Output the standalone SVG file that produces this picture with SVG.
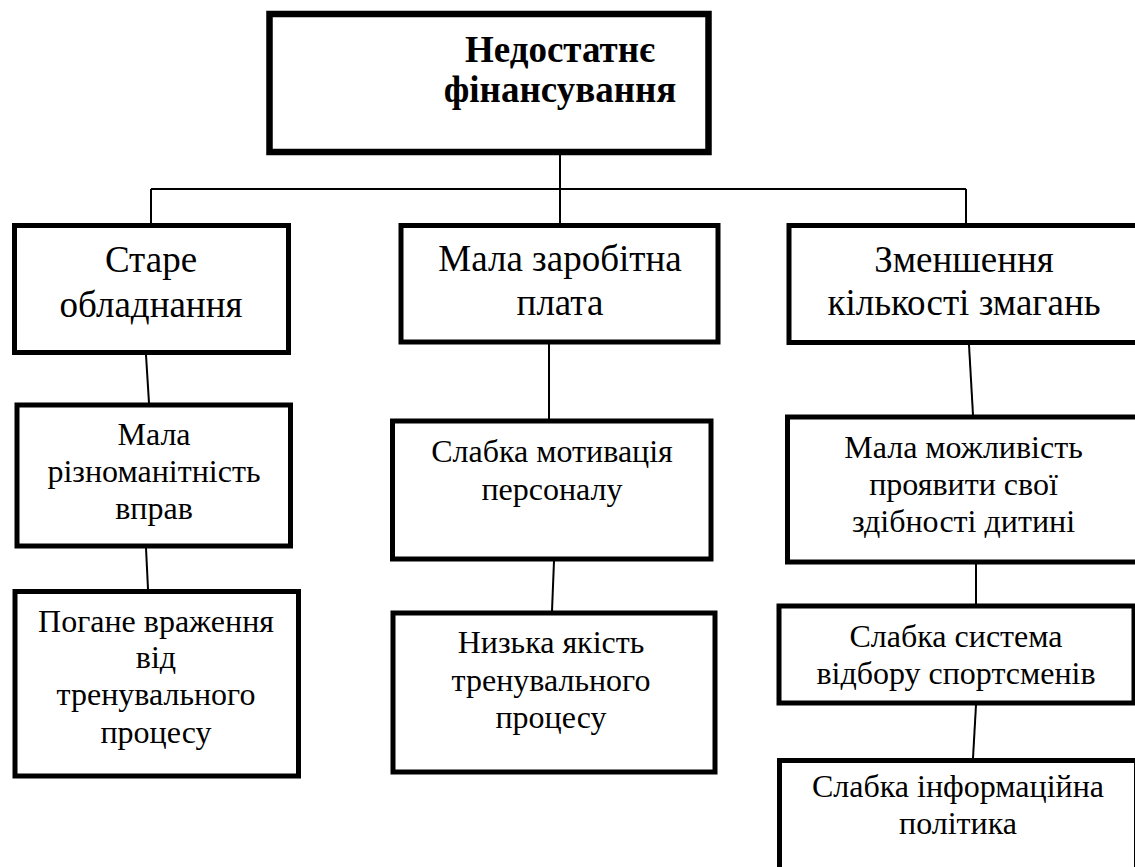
<svg xmlns="http://www.w3.org/2000/svg" width="1135" height="867" viewBox="0 0 1135 867">
<style>
.box{fill:#fff;stroke:#000;stroke-width:5}
.t1{font-family:"Liberation Serif","Times New Roman","DejaVu Serif",serif;font-size:37px;fill:#000;text-anchor:middle}
.t2{font-family:"Liberation Serif","Times New Roman","DejaVu Serif",serif;font-size:32px;fill:#000;text-anchor:middle}
.tb{font-family:"Liberation Serif","Times New Roman","DejaVu Serif",serif;font-size:37px;font-weight:bold;fill:#000;text-anchor:middle}
.c{fill:none;stroke:#000;stroke-width:2}
</style>
<rect width="1135" height="867" fill="#fff"/>
<g id="connectors">
<path class="c" d="M560,155 V189 M151,189 H966 M151,189 V223 M560,189 V223 M966,189 V223"/>
<path class="c" d="M146,355 L149,403"/>
<path class="c" d="M146,548 L148,589"/>
<path class="c" d="M549,344 V419"/>
<path class="c" d="M554,561 L552,611"/>
<path class="c" d="M969,345 L973,415"/>
<path class="c" d="M976,564 V604"/>
<path class="c" d="M976,705 L973,758"/>
</g>
<g id="n0"><rect class="box" style="stroke-width:6.5" x="269.5" y="14" width="439" height="138"/>
<text class="tb" x="560" y="62">Недостатнє</text><text class="tb" x="560" y="102">фінансування</text></g>
<g id="n1"><rect class="box" x="14.5" y="225.5" width="274" height="127"/>
<text class="t1" x="151" y="272">Старе</text><text class="t1" x="151" y="317">обладнання</text></g>
<g id="n2"><rect class="box" x="401" y="225.5" width="317" height="116.5"/>
<text class="t1" x="560" y="271">Мала заробітна</text><text class="t1" x="560" y="315">плата</text></g>
<g id="n3"><rect class="box" x="789" y="225.5" width="400" height="117"/>
<text class="t1" x="964" y="272">Зменшення</text><text class="t1" x="964" y="315">кількості змагань</text></g>
<g id="n4"><rect class="box" x="17" y="405" width="273.5" height="141"/>
<text class="t2" x="154" y="445">Мала</text><text class="t2" x="154" y="482">різноманітність</text><text class="t2" x="154" y="519">вправ</text></g>
<g id="n5"><rect class="box" x="392.5" y="421" width="318.5" height="138"/>
<text class="t2" x="552" y="462">Слабка мотивація</text><text class="t2" x="552" y="500">персоналу</text></g>
<g id="n6"><rect class="box" x="787.5" y="417" width="400" height="145"/>
<text class="t2" x="963.5" y="458">Мала можливість</text><text class="t2" x="963.5" y="495">проявити свої</text><text class="t2" x="963.5" y="532">здібності дитині</text></g>
<g id="n7"><rect class="box" x="15" y="591.5" width="283.5" height="184.5"/>
<text class="t2" x="156" y="632">Погане враження</text><text class="t2" x="156" y="668">від</text><text class="t2" x="156" y="705">тренувального</text><text class="t2" x="156" y="743">процесу</text></g>
<g id="n8"><rect class="box" x="393" y="613" width="322" height="159"/>
<text class="t2" x="551" y="653">Низька якість</text><text class="t2" x="551" y="691">тренувального</text><text class="t2" x="551" y="728">процесу</text></g>
<g id="n9"><rect class="box" x="779" y="606" width="355" height="97"/>
<text class="t2" x="956" y="647">Слабка система</text><text class="t2" x="956" y="684">відбору спортсменів</text></g>
<g id="n10"><rect class="box" x="779.5" y="760.5" width="357" height="130"/>
<text class="t2" x="958" y="797">Слабка інформаційна</text><text class="t2" x="958" y="834">політика</text></g>
</svg>
